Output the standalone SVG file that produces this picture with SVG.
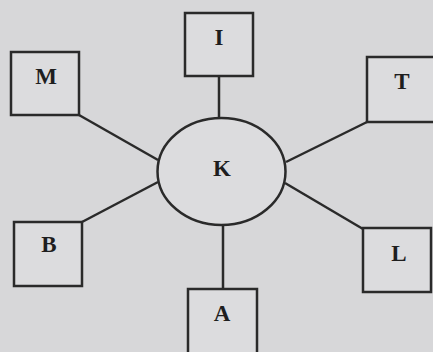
<svg xmlns="http://www.w3.org/2000/svg" width="433" height="352" viewBox="0 0 433 352">
<style>
.bg{fill:#d7d7d9}
.box{fill:#dcdcde;stroke:#2a2a2a;stroke-width:2.5}
.ln{stroke:#2a2a2a;stroke-width:2.5;fill:none}
.lbl{font-family:"Liberation Serif","Times New Roman",serif;font-weight:bold;font-size:23px;fill:#1e1e1e;text-anchor:middle}
</style>
<rect class="bg" x="0" y="0" width="433" height="352"/>
<g id="connectors">
<line class="ln" x1="219" y1="76" x2="219" y2="118"/>
<line class="ln" x1="79" y1="115" x2="158" y2="160"/>
<line class="ln" x1="367" y1="122" x2="286" y2="162"/>
<line class="ln" x1="82" y1="222" x2="158" y2="182"/>
<line class="ln" x1="285" y1="183" x2="363" y2="229"/>
<line class="ln" x1="223" y1="225" x2="223" y2="289"/>
</g>
<g id="node-K">
<ellipse class="box" cx="221.5" cy="171.5" rx="64" ry="53.5"/>
<text class="lbl" x="222" y="176">K</text>
</g>
<g id="node-I">
<rect class="box" x="185" y="13" width="68" height="63"/>
<text class="lbl" x="219" y="45">I</text>
</g>
<g id="node-M">
<rect class="box" x="11" y="52" width="68" height="63"/>
<text class="lbl" x="46" y="84">M</text>
</g>
<g id="node-T">
<rect class="box" x="367" y="57" width="68" height="65"/>
<text class="lbl" x="402" y="89">T</text>
</g>
<g id="node-B">
<rect class="box" x="14" y="222" width="68" height="64"/>
<text class="lbl" x="49" y="252">B</text>
</g>
<g id="node-L">
<rect class="box" x="363" y="228" width="68" height="64"/>
<text class="lbl" x="399" y="261">L</text>
</g>
<g id="node-A">
<rect class="box" x="188" y="289" width="69" height="70"/>
<text class="lbl" x="222" y="321">A</text>
</g>
</svg>
